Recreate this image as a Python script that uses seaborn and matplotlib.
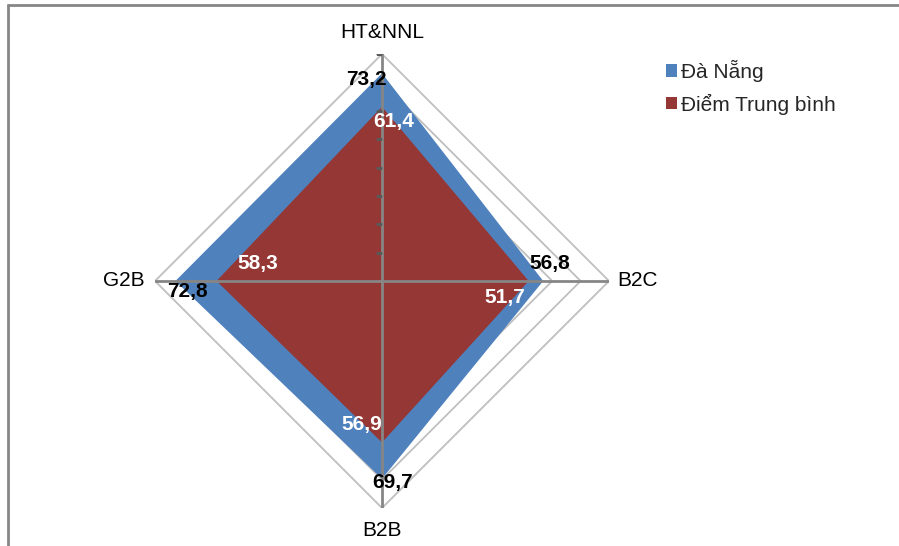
import numpy as np
import matplotlib
matplotlib.use("Agg")
import matplotlib.pyplot as plt
import seaborn as sns
from matplotlib.patches import Patch
from matplotlib.lines import Line2D

categories = ["HT&NNL", "B2C", "B2B", "G2B"]
da_nang = [73.2, 56.8, 69.7, 72.8]
trung_binh = [61.4, 51.7, 56.9, 58.3]
series_names = ["Đà Nẵng", "Điểm Trung bình"]
ring_levels = [10, 20, 30, 40, 50, 60, 70, 80]

COLORS = ["#4F81BD", "#953735"]
GRID = "#BFBFBF"
AXIS = "#868686"
FONT = ["Liberation Sans", "DejaVu Sans"]

# label offsets in pixels (x, y up)
dn_offsets = [(-16, -6), (7, 18), (11, -4), (12, -11)]
tb_offsets = [(12, -15), (-24, -16), (-20, 18), (41, 18)]
cat_offsets = [(0, 22), (8, 0), (0, -23), (-10, 0)]
cat_align = ["center", "left", "center", "right"]


def closed(vals):
    return list(vals) + [vals[0]]


def plot_radar():
    sns.set_style("white")
    plt.rcParams["font.family"] = FONT

    fig = plt.figure(figsize=(8.99, 5.46), dpi=100)
    ax = fig.add_axes([155 / 899, 1 - 508 / 546, 454 / 899, 454 / 546], polar=True)
    ax.set_theta_offset(np.pi / 2)
    ax.set_theta_direction(-1)
    ax.set_ylim(0, 80)
    ax.set_xticks([])
    ax.set_yticks([])
    ax.grid(False)
    ax.spines["polar"].set_visible(False)
    ax.patch.set_alpha(0)

    theta = np.linspace(0, 2 * np.pi, len(categories), endpoint=False)
    tc = closed(theta)

    for lvl in ring_levels:
        ax.plot(tc, [lvl] * len(tc), color=GRID, lw=1.3, zorder=1)

    ax.fill(tc, closed(da_nang), color=COLORS[0], lw=0, zorder=2)
    ax.fill(tc, closed(trung_binh), color=COLORS[1], lw=0, zorder=3)

    for t in theta:
        ax.plot([t, t], [0, ring_levels[-1]], color=AXIS, lw=2, zorder=4)
    ax.plot([theta[0]] * len(ring_levels), ring_levels, ls="none", marker=0,
            ms=4, mew=1, color="#595959", zorder=4)

    for t, v, off in zip(theta, da_nang, dn_offsets):
        ax.annotate(f"{v:.1f}".replace(".", ","), xy=(t, v), xytext=off,
                    textcoords="offset pixels", ha="center", va="center",
                    fontsize=15, fontweight="bold", color="black", zorder=5)
    for t, v, off in zip(theta, trung_binh, tb_offsets):
        ax.annotate(f"{v:.1f}".replace(".", ","), xy=(t, v), xytext=off,
                    textcoords="offset pixels", ha="center", va="center",
                    fontsize=15, fontweight="bold", color="white", zorder=5)
    for t, name, off, ha in zip(theta, categories, cat_offsets, cat_align):
        ax.annotate(name, xy=(t, ring_levels[-1]), xytext=off,
                    textcoords="offset pixels", ha=ha, va="center",
                    fontsize=15, color="black", annotation_clip=False)

    handles = [Patch(facecolor=c, edgecolor="none") for c in COLORS]
    fig.legend(handles, series_names, loc="upper left",
               bbox_to_anchor=(666 / 899, 1 - 60 / 546), frameon=False,
               fontsize=15, handlelength=0.55, handleheight=0.55,
               handletextpad=0.15, labelspacing=0.55, borderpad=0,
               borderaxespad=0)

    fig.add_artist(Line2D([8 / 899, 8 / 899], [0, 1 - 5 / 546],
                          transform=fig.transFigure, color=AXIS, lw=2))
    fig.add_artist(Line2D([8 / 899, 1], [1 - 5 / 546, 1 - 5 / 546],
                          transform=fig.transFigure, color=AXIS, lw=2))

    fig.savefig("out.png", dpi=100, facecolor="white")


def main():
    plot_radar()


if __name__ == "__main__":
    main()
